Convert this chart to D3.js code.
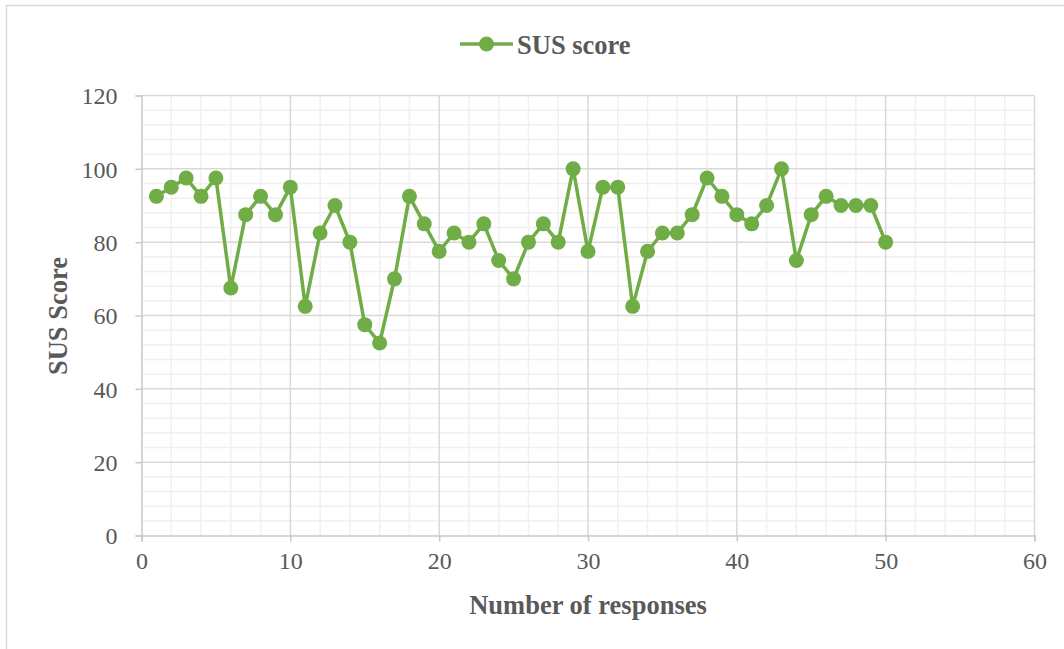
<!DOCTYPE html>
<html>
<head>
<meta charset="utf-8">
<script src="https://cdn.jsdelivr.net/npm/d3@7"></script>
<style>
  html, body { margin: 0; padding: 0; background: #ffffff; }
  svg { display: block; }
</style>
</head>
<body>
<svg id="chart" width="1064" height="649"></svg>
<script>
// Response index (1..50) and SUS score per response
const responses = d3.range(1, 51);
const susScores = [
  92.5, 95, 97.5, 92.5, 97.5, 67.5, 87.5, 92.5, 87.5, 95,
  62.5, 82.5, 90, 80, 57.5, 52.5, 70, 92.5, 85, 77.5,
  82.5, 80, 85, 75, 70, 80, 85, 80, 100, 77.5,
  95, 95, 62.5, 77.5, 82.5, 82.5, 87.5, 97.5, 92.5, 87.5,
  85, 90, 100, 75, 87.5, 92.5, 90, 90, 90, 80
];
const xTicks = [0, 10, 20, 30, 40, 50, 60];
const yTicks = [0, 20, 40, 60, 80, 100, 120];
const seriesName = "SUS score";
const xTitle = "Number of responses";
const yTitle = "SUS Score";

const svg = d3.select("#chart");
const green = "#70ad47";
const textGray = "#595959";
const serif = "'Liberation Serif', 'Times New Roman', serif";

// Outer chart frame
svg.append("rect")
  .attr("x", 6.5).attr("y", 5.5)
  .attr("width", 1064).attr("height", 660)
  .attr("fill", "none").attr("stroke", "#d9d9d9").attr("stroke-width", 1.5);

const plot = { left: 141.5, right: 1034.5, top: 95.5, bottom: 535.5 };
const x = d3.scaleLinear().domain([0, 60]).range([plot.left, plot.right]);
const y = d3.scaleLinear().domain([0, 120]).range([plot.bottom, plot.top]);

const g = svg.append("g");

// Minor gridlines
g.append("g").selectAll("line")
  .data(d3.range(0, 61, 2).filter(v => v % 10 !== 0))
  .join("line")
  .attr("x1", d => x(d)).attr("x2", d => x(d))
  .attr("y1", plot.top).attr("y2", plot.bottom)
  .attr("stroke", "#f0f0f0").attr("stroke-width", 1.5);
g.append("g").selectAll("line")
  .data(d3.range(0, 121, 4).filter(v => v % 20 !== 0))
  .join("line")
  .attr("x1", plot.left).attr("x2", plot.right)
  .attr("y1", d => y(d)).attr("y2", d => y(d))
  .attr("stroke", "#f0f0f0").attr("stroke-width", 1.5);

// Major gridlines
g.append("g").selectAll("line")
  .data(xTicks.slice(1))
  .join("line")
  .attr("x1", d => x(d)).attr("x2", d => x(d))
  .attr("y1", plot.top).attr("y2", plot.bottom)
  .attr("stroke", "#d9d9d9").attr("stroke-width", 1.5);
g.append("g").selectAll("line")
  .data(yTicks.slice(1))
  .join("line")
  .attr("x1", plot.left).attr("x2", plot.right)
  .attr("y1", d => y(d)).attr("y2", d => y(d))
  .attr("stroke", "#d9d9d9").attr("stroke-width", 1.5);

// Axes
const xAxis = d3.axisBottom(x).tickValues(xTicks).tickSize(6).tickPadding(10);
const yAxis = d3.axisLeft(y).tickValues(yTicks).tickSize(6).tickPadding(18);

const gx = svg.append("g").attr("transform", `translate(0,${plot.bottom})`).call(xAxis);
const gy = svg.append("g").attr("transform", `translate(${plot.left},0)`).call(yAxis);

[gx, gy].forEach(a => {
  a.select(".domain").attr("stroke", "#c8c8c8").attr("stroke-width", 1.5);
  a.selectAll(".tick line").attr("stroke", "#c8c8c8").attr("stroke-width", 1.5);
  a.selectAll(".tick text")
    .attr("fill", textGray)
    .style("font-family", serif)
    .style("font-size", "24px");
});
gy.selectAll(".tick text").attr("dy", "0.34em");

// Series line with markers
const line = d3.line()
  .x((d, i) => x(responses[i]))
  .y(d => y(d));

svg.append("path")
  .datum(susScores)
  .attr("d", line)
  .attr("fill", "none")
  .attr("stroke", green)
  .attr("stroke-width", 3.5)
  .attr("stroke-linejoin", "round");

svg.append("g").selectAll("circle")
  .data(susScores)
  .join("circle")
  .attr("cx", (d, i) => x(responses[i]))
  .attr("cy", d => y(d))
  .attr("r", 7.5)
  .attr("fill", green);

// Axis titles
svg.append("text")
  .attr("x", 588)
  .attr("y", 614)
  .attr("text-anchor", "middle")
  .attr("fill", textGray)
  .style("font-family", serif)
  .style("font-weight", "bold")
  .style("font-size", "26.5px")
  .text(xTitle);

svg.append("text")
  .attr("transform", `translate(67,316) rotate(-90)`)
  .attr("text-anchor", "middle")
  .attr("fill", textGray)
  .style("font-family", serif)
  .style("font-weight", "bold")
  .style("font-size", "26.5px")
  .text(yTitle);

// Legend
const legend = svg.append("g").attr("transform", "translate(460,44)");
legend.append("line")
  .attr("x1", 0).attr("x2", 53).attr("y1", 0).attr("y2", 0)
  .attr("stroke", green).attr("stroke-width", 3.5);
legend.append("circle")
  .attr("cx", 26.5).attr("cy", 0).attr("r", 7.5).attr("fill", green);
legend.append("text")
  .attr("x", 57).attr("y", 0).attr("dy", "0.36em")
  .attr("fill", textGray)
  .style("font-family", serif)
  .style("font-weight", "bold")
  .style("font-size", "26.5px")
  .text(seriesName);
</script>
</body>
</html>
